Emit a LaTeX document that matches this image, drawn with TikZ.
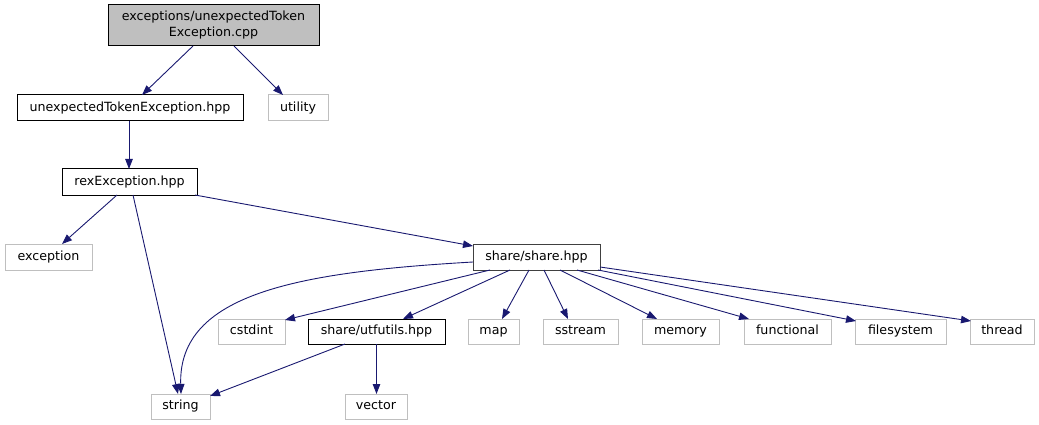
\documentclass[tikz,border=0pt]{standalone}
\usepackage{fontspec}
\setmainfont{DejaVu Sans}
\usetikzlibrary{arrows.meta}
\definecolor{edgeblue}{HTML}{191970}
\definecolor{lightborder}{HTML}{BFBFBF}
\definecolor{topfill}{HTML}{BFBFBF}
\definecolor{darkborder}{HTML}{404040}
\begin{document}
\begin{tikzpicture}[x=1pt,y=-1pt,
  every node/.style={inner sep=0pt, outer sep=0pt, font=\fontsize{12.65}{16}\selectfont, align=center},
  oneline/.style={text height=9.6pt, text depth=2.9pt},
  docbox/.style={draw=black, line width=1pt, fill=white, minimum height=#1},
  docbox/.default=26pt,
  sysbox/.style={draw=lightborder, line width=1pt, fill=white, minimum height=25pt, oneline},
  edge/.style={draw=edgeblue, line width=0.9pt, -{Triangle[length=10pt,width=7.5pt]}}
]
\useasboundingbox (0,0) rectangle (1039,425);

\node[docbox=41pt, fill=topfill, minimum width=211pt] (top) at (213.5,25.5) {exceptions/unexpectedToken\\Exception.cpp};
\node[docbox, oneline, minimum width=226pt] (ute) at (130,108) {unexpectedTokenException.hpp};
\node[sysbox, minimum height=26pt, minimum width=60pt] (util) at (298,108) {utility};
\node[docbox, oneline, minimum width=135pt] (rex) at (129.5,182) {rexException.hpp};
\node[sysbox, minimum height=26pt, minimum width=87pt] (exc) at (48.5,257) {exception};
\node[docbox, oneline, draw=darkborder, minimum width=127pt] (share) at (536.5,257) {share/share.hpp};
\node[sysbox, minimum width=67pt] (cstdint) at (251.5,331.5) {cstdint};
\node[docbox, oneline, minimum height=25pt, minimum width=137pt] (utf) at (376.5,331.5) {share/utfutils.hpp};
\node[sysbox, minimum width=51pt] (map) at (493.5,331.5) {map};
\node[sysbox, minimum width=75pt] (sstream) at (580.5,331.5) {sstream};
\node[sysbox, minimum width=77pt] (memory) at (680.5,331.5) {memory};
\node[sysbox, minimum width=87pt] (functional) at (787.5,331.5) {functional};
\node[sysbox, minimum width=91pt] (filesystem) at (900.5,331.5) {filesystem};
\node[sysbox, minimum width=64pt] (thread) at (1002,331.5) {thread};
\node[sysbox, minimum width=59pt] (string) at (180.5,406.5) {string};
\node[sysbox, minimum width=62pt] (vector) at (376,406.5) {vector};

\draw[edge] ([xshift=-20.5pt]top.south) -- ([xshift=12pt]ute.north);
\draw[edge] ([xshift=20.5pt]top.south) -- ([xshift=-15pt]util.north);
\draw[edge] ([xshift=-1pt]ute.south) -- ([xshift=-0.5pt]rex.north);
\draw[edge] ([xshift=-12.5pt]rex.south) -- ([xshift=13.5pt]exc.north);
\draw[edge] ([xshift=3.5pt]rex.south) -- ([xshift=-2.5pt]string.north);
\draw[edge] ([xshift=-2pt]rex.south east) -- ([yshift=-2pt]share.north west);
\draw[edge] ([yshift=-5pt]share.west) .. controls (300,272) and (178,293) .. ([xshift=0.5pt]string.north);
\draw[edge] ([xshift=-46.5pt]share.south) -- ([yshift=-1pt]cstdint.north east);
\draw[edge] ([xshift=-26.5pt]share.south) -- ([xshift=26.5pt]utf.north);
\draw[edge] ([xshift=-7.5pt]share.south) -- ([xshift=8.5pt]map.north);
\draw[edge] ([xshift=7.5pt]share.south) -- ([xshift=-12.5pt]sstream.north);
\draw[edge] ([xshift=23.5pt]share.south) -- ([xshift=-23.5pt]memory.north);
\draw[edge] ([xshift=40.5pt]share.south) -- ([xshift=-38.5pt]functional.north);
\draw[edge] ([xshift=-2pt]share.south east) -- ([xshift=1pt,yshift=-2pt]filesystem.north west);
\draw[edge] ([yshift=-10pt]share.east) -- ([xshift=1pt,yshift=-2pt]thread.north west);
\draw[edge] ([xshift=-31.5pt]utf.south) -- ([yshift=-2pt]string.north east);
\draw[edge] (utf.south) -- (utf.south |- vector.north);
\end{tikzpicture}
\end{document}
